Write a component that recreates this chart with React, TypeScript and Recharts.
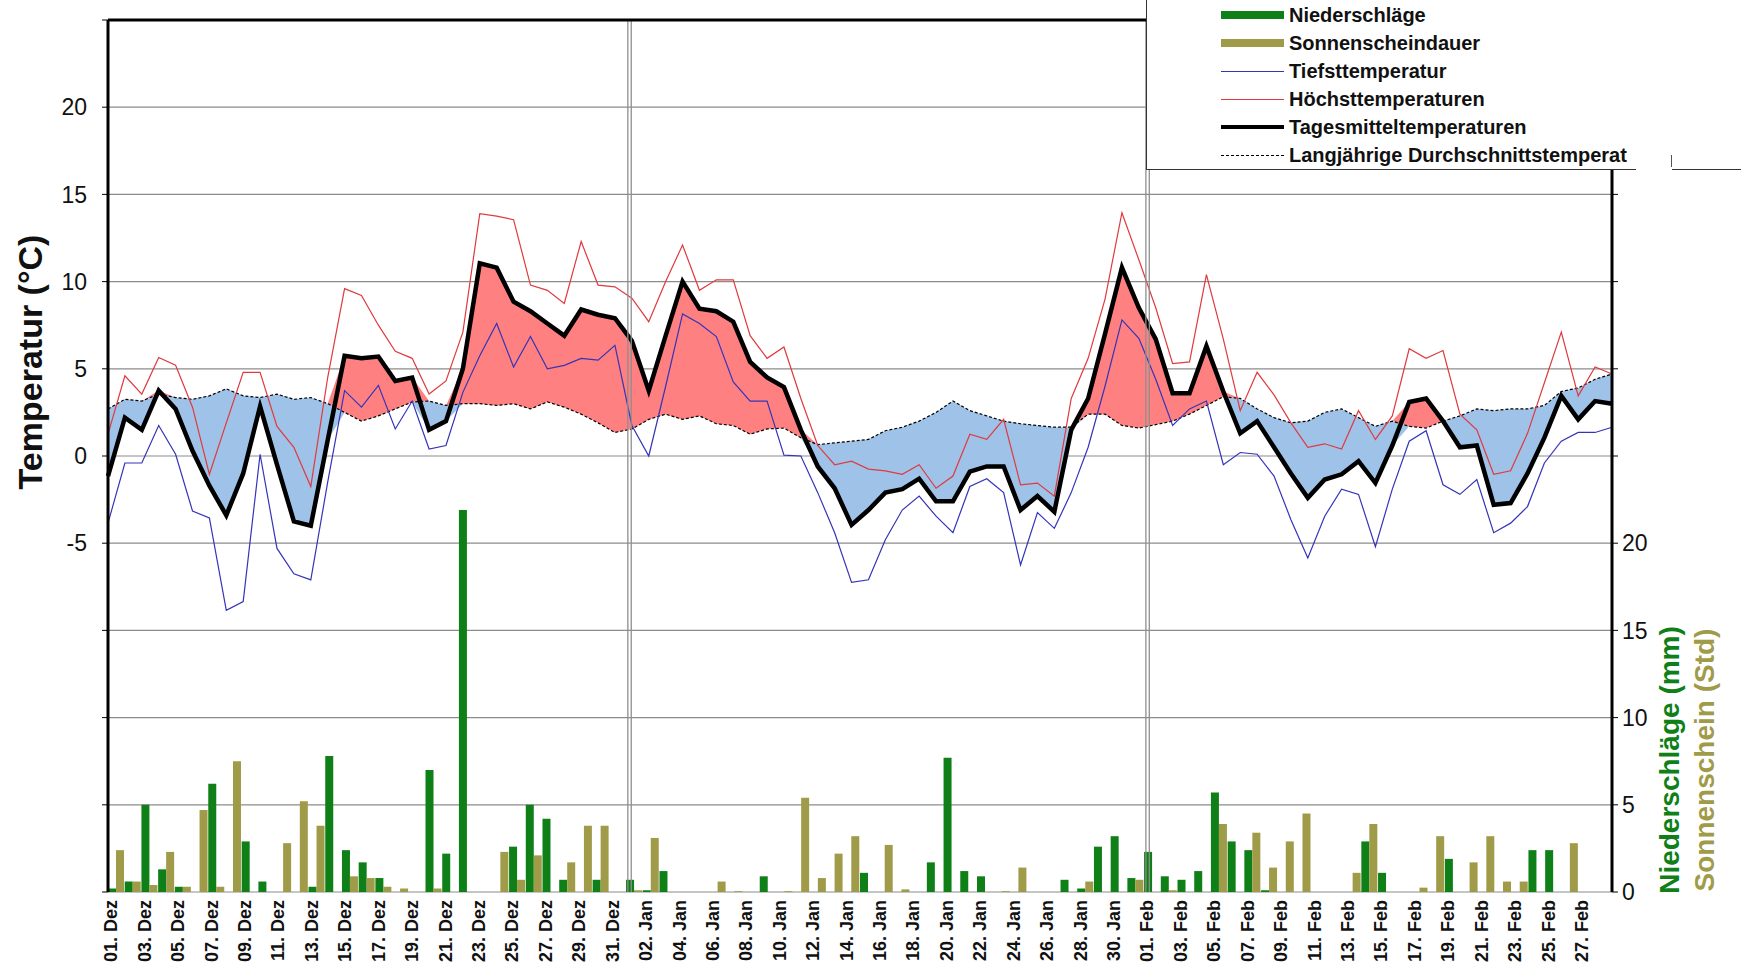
import React from 'react';
import { ComposedChart, Bar, Line, Area, XAxis, YAxis, CartesianGrid, ReferenceLine } from 'recharts';

const FONT = '"Liberation Sans", Arial, Helvetica, sans-serif';

// Kalendertage 01. Dez – 28. Feb
const monthLengths: [string, number][] = [['Dez', 31], ['Jan', 31], ['Feb', 28]];
const days: string[] = monthLengths.flatMap(([m, n]) =>
  Array.from({ length: n }, (_, i) => `${String(i + 1).padStart(2, '0')}. ${m}`)
);

// Niederschläge (mm)
const precip = [
  0.2, 0.6, 5.0, 1.3, 0.3, 0, 6.2, 0, 2.9, 0.6, 0, 0, 0.3, 7.8, 2.4, 1.7, 0.8, 0, 0, 7.0, 2.2, 21.9, 0, 0, 2.6, 5.0, 4.2, 0.7, 0, 0.7, 0,
  0.7, 0.1, 1.2, 0, 0, 0, 0, 0, 0.9, 0, 0, 0, 0, 0, 1.1, 0, 0, 0, 1.7, 7.7, 1.2, 0.9, 0, 0, 0, 0, 0.7, 0.2, 2.6, 3.2, 0.8,
  2.3, 0.9, 0.7, 1.2, 5.7, 2.9, 2.4, 0.1, 0, 0, 0, 0, 0, 2.9, 1.1, 0, 0, 0, 1.9, 0, 0, 0, 0, 2.4, 2.4, 0, 0, 0,
];

// Sonnenscheindauer (Std)
const sunshine = [
  2.4, 0.6, 0.4, 2.3, 0.3, 4.7, 0.3, 7.5, 0, 0, 2.8, 5.2, 3.8, 0, 0.9, 0.8, 0.3, 0.2, 0, 0.2, 0, 0, 0, 2.3, 0.7, 2.1, 0, 1.7, 3.8, 3.8, 0,
  0.1, 3.1, 0, 0, 0, 0.6, 0.05, 0, 0, 0.05, 5.4, 0.8, 2.2, 3.2, 0, 2.7, 0.15, 0, 0, 0, 0, 0, 0.05, 1.4, 0, 0, 0, 0.6, 0, 0, 0.7,
  0, 0.1, 0, 0, 3.9, 0, 3.4, 1.4, 2.9, 4.5, 0, 0, 1.1, 3.9, 0, 0, 0.25, 3.2, 0, 1.7, 3.2, 0.6, 0.6, 0, 0, 2.8, 0, 0,
];

// Tiefsttemperatur (°C)
const tMin = [
  -3.85, -0.4, -0.4, 1.75, 0.1, -3.15, -3.55, -8.85, -8.35, 0.1, -5.3, -6.75, -7.1, -1.5, 3.75, 2.8, 4.05, 1.55, 3.15, 0.4, 0.6, 3.65, 5.75, 7.6, 5.1, 6.85, 5.0, 5.2, 5.6, 5.5, 6.35,
  1.75, 0.0, 4.0, 8.15, 7.6, 6.85, 4.25, 3.15, 3.15, 0.05, 0.0, -2.1, -4.4, -7.25, -7.1, -4.8, -3.1, -2.3, -3.45, -4.4, -1.75, -1.3, -2.1, -6.25, -3.25, -4.15, -2.1, 0.5, 4.0, 7.8, 6.75,
  4.4, 1.75, 2.7, 3.15, -0.5, 0.2, 0.1, -1.15, -3.65, -5.85, -3.45, -1.9, -2.2, -5.2, -1.9, 0.85, 1.45, -1.65, -2.2, -1.35, -4.4, -3.85, -2.9, -0.4, 0.85, 1.35, 1.35, 1.65,
];

// Höchsttemperaturen (°C)
const tMax = [
  1.25, 4.6, 3.55, 5.65, 5.2, 2.8, -1.05, 1.9, 4.8, 4.8, 1.7, 0.5, -1.75, 4.5, 9.6, 9.2, 7.5, 6.0, 5.6, 3.55, 4.3, 7.1, 13.9, 13.75, 13.55, 9.8, 9.5, 8.75, 12.3, 9.8, 9.7,
  9.05, 7.7, 10.0, 12.1, 9.5, 10.1, 10.1, 6.9, 5.6, 6.25, 3.3, 0.6, -0.5, -0.3, -0.75, -0.85, -1.05, -0.5, -1.85, -1.15, 1.25, 0.95, 2.1, -1.65, -1.55, -2.3, 3.3, 5.6, 9.0, 13.95, 11.25,
  8.5, 5.3, 5.4, 10.4, 6.7, 2.6, 4.8, 3.5, 1.9, 0.5, 0.7, 0.4, 2.6, 0.95, 2.3, 6.15, 5.6, 6.05, 2.4, 1.5, -1.05, -0.85, 1.3, 4.2, 7.1, 3.45, 5.1, 4.7,
];

// Tagesmitteltemperaturen (°C)
const tMean = [
  -1.15, 2.2, 1.5, 3.75, 2.7, 0.3, -1.7, -3.4, -1.0, 2.85, -0.5, -3.75, -4.0, 0.9, 5.75, 5.6, 5.7, 4.3, 4.5, 1.5, 2.0, 5.0, 11.05, 10.8, 8.85, 8.3, 7.6, 6.9, 8.4, 8.1, 7.9,
  6.6, 3.75, 6.9, 10.0, 8.45, 8.3, 7.7, 5.4, 4.5, 3.95, 1.5, -0.6, -1.85, -3.95, -3.1, -2.1, -1.9, -1.3, -2.6, -2.6, -0.9, -0.6, -0.6, -3.1, -2.3, -3.2, 1.5, 3.3, 7.0, 10.8, 8.5,
  6.7, 3.6, 3.6, 6.3, 3.7, 1.3, 2.0, 0.5, -1.0, -2.4, -1.35, -1.05, -0.3, -1.55, 0.6, 3.1, 3.3, 2.0, 0.5, 0.6, -2.8, -2.7, -1.0, 1.05, 3.45, 2.1, 3.15, 3.0,
];

// Langjährige Durchschnittstemperatur (°C)
const tNormal = [
  2.7, 3.25, 3.15, 3.55, 3.35, 3.25, 3.45, 3.85, 3.45, 3.35, 3.55, 3.25, 3.35, 3.0, 2.5, 2.0, 2.3, 2.7, 3.1, 3.15, 2.9, 3.0, 3.0, 2.9, 3.0, 2.7, 3.1, 2.8, 2.4, 1.9, 1.35,
  1.55, 2.1, 2.4, 2.1, 2.3, 1.85, 1.75, 1.25, 1.55, 1.6, 1.05, 0.65, 0.75, 0.85, 0.95, 1.45, 1.65, 2.0, 2.5, 3.15, 2.6, 2.3, 2.0, 1.85, 1.75, 1.65, 1.65, 2.4, 2.4, 1.75, 1.6,
  1.8, 2.0, 2.4, 2.9, 3.4, 3.3, 2.7, 2.2, 1.9, 2.0, 2.5, 2.7, 2.2, 1.7, 2.0, 1.7, 1.6, 2.0, 2.3, 2.7, 2.6, 2.7, 2.7, 2.9, 3.7, 3.9, 4.4, 4.7,
];

const tempTicks = [-25, -20, -15, -10, -5, 0, 5, 10, 15, 20, 25];
const rightTicks = [0, 5, 10, 15, 20, 25, 30, 35, 40, 45, 50];
const dayEdges = Array.from({ length: days.length + 1 }, (_, i) => i);
const monthStarts = [31, 62];

const data = days.map((day, i) => ({
  day,
  idx: i,
  precip: precip[i],
  sun: sunshine[i],
  tMin: tMin[i],
  tMax: tMax[i],
  tMean: tMean[i],
  tNormal: tNormal[i],
  warm: [tNormal[i], Math.max(tMean[i], tNormal[i])],
  cold: [Math.min(tMean[i], tNormal[i]), tNormal[i]],
}));

const GREEN = '#0f7f17';
const OLIVE = '#a09b48';

const DayTick = (props: any) => {
  const { x, y, payload } = props;
  const tx = x - 5;
  return (
    <text
      x={tx}
      y={y}
      transform={`rotate(-90, ${tx}, ${y})`}
      textAnchor="end"
      dominantBaseline="central"
      fontSize={18}
      fontWeight="bold"
      fontFamily={FONT}
      fill="#111"
    >
      {payload.value}
    </text>
  );
};

const DoubleLine = (props: any) => {
  const { x1, y1, x2, y2 } = props;
  return (
    <g>
      <line x1={x1 + 1.8} y1={y1} x2={x2 + 1.8} y2={y2} stroke="#8f8f8f" strokeWidth={1.3} />
      <line x1={x1 + 5.2} y1={y1} x2={x2 + 5.2} y2={y2} stroke="#8f8f8f" strokeWidth={1.3} />
    </g>
  );
};

const legendRows = [
  { label: 'Niederschläge', kind: 'bar', color: GREEN },
  { label: 'Sonnenscheindauer', kind: 'bar', color: OLIVE },
  { label: 'Tiefsttemperatur', kind: 'thin', color: '#3434b8' },
  { label: 'Höchsttemperaturen', kind: 'thin', color: '#e0393e' },
  { label: 'Tagesmitteltemperaturen', kind: 'thick', color: '#000' },
  // so abgeschnitten wie im Original
  { label: 'Langjährige Durchschnittstemperat', kind: 'dash', color: '#000' },
];

const Swatch = ({ kind, color }: { kind: string; color: string }) => {
  const base: React.CSSProperties = { width: 63, marginRight: 5, flexShrink: 0 };
  if (kind === 'bar') return <div style={{ ...base, height: 8, background: color }} />;
  if (kind === 'thick') return <div style={{ ...base, height: 4, background: color }} />;
  if (kind === 'dash') return <div style={{ ...base, height: 0, borderTop: `1px dashed ${color}` }} />;
  return <div style={{ ...base, height: 1, background: color }} />;
};

const Legend = () => (
  <>
    <div
      style={{
        position: 'absolute',
        left: 1146,
        top: -1,
        width: 700,
        height: 171,
        border: '1px solid #333',
        background: '#fff',
        boxSizing: 'border-box',
      }}
    >
      <div style={{ position: 'absolute', left: 74, top: 1 }}>
        {legendRows.map((r) => (
          <div key={r.label} style={{ display: 'flex', alignItems: 'center', height: 28, whiteSpace: 'nowrap' }}>
            <Swatch kind={r.kind} color={r.color} />
            <span style={{ fontFamily: FONT, fontWeight: 'bold', fontSize: 20, color: '#111' }}>{r.label}</span>
          </div>
        ))}
      </div>
    </div>
    <div style={{ position: 'absolute', left: 1636, top: 0, width: 36, height: 176, background: '#fff' }} />
    <div style={{ position: 'absolute', left: 1671, top: 155, width: 1, height: 12, background: '#555' }} />
  </>
);

const App: React.FC = () => {
  return (
    <div style={{ position: 'relative', width: 1741, height: 975, background: '#fff', overflow: 'hidden' }}>
      <style>{'body{margin:0;background:#fff;}'}</style>
      <ComposedChart
        width={1741}
        height={975}
        data={data}
        margin={{ top: 20, right: 0, bottom: 0, left: 0 }}
        barCategoryGap={0}
        barGap={0}
      >
        <XAxis
          xAxisId="num"
          type="number"
          dataKey="idx"
          domain={[0, 90]}
          ticks={dayEdges}
          allowDataOverflow
          height={0}
          tick={false}
          tickSize={6}
          axisLine={{ stroke: '#000', strokeWidth: 3 }}
          tickLine={{ stroke: '#000', strokeWidth: 1 }}
        />
        <XAxis
          xAxisId="bar"
          dataKey="day"
          interval={1}
          height={83}
          axisLine={false}
          tickLine={false}
          tickSize={0}
          tickMargin={8}
          tick={<DayTick />}
        />
        <XAxis xAxisId="line" dataKey="day" scale="point" hide />
        <YAxis
          yAxisId="left"
          domain={[-25, 25]}
          ticks={tempTicks}
          allowDataOverflow
          width={108}
          tickFormatter={(v: number) => (v >= -5 && v <= 20 ? String(v) : '')}
          axisLine={{ stroke: '#000', strokeWidth: 3 }}
          tickLine={{ stroke: '#000' }}
          tickSize={6}
          tickMargin={15}
          tick={{ fill: '#111', fontSize: 23, fontFamily: FONT }}
        />
        <YAxis
          yAxisId="right"
          orientation="right"
          domain={[0, 50]}
          ticks={rightTicks}
          allowDataOverflow
          width={129}
          tickFormatter={(v: number) => (v <= 20 ? String(v) : '')}
          axisLine={{ stroke: '#000', strokeWidth: 3 }}
          tickLine={{ stroke: '#000' }}
          tickSize={6}
          tickMargin={4}
          tick={{ fill: '#111', fontSize: 23, fontFamily: FONT, textAnchor: 'start' }}
        />
        <CartesianGrid xAxisId="bar" yAxisId="left" vertical={false} stroke="#8c8c8c" strokeWidth={1.2} />

        <Bar xAxisId="bar" yAxisId="right" dataKey="precip" name="Niederschläge" fill={GREEN} isAnimationActive={false} />
        <Bar xAxisId="bar" yAxisId="right" dataKey="sun" name="Sonnenscheindauer" fill={OLIVE} isAnimationActive={false} />

        <Area xAxisId="line" yAxisId="left" type="linear" dataKey="warm" stroke="none" fill="#ff8080" fillOpacity={1} isAnimationActive={false} />
        <Area xAxisId="line" yAxisId="left" type="linear" dataKey="cold" stroke="none" fill="#9fc2e8" fillOpacity={1} isAnimationActive={false} />

        <Line xAxisId="line" yAxisId="left" type="linear" dataKey="tNormal" name="Langjährige Durchschnittstemperatur" stroke="#000" strokeWidth={1.2} strokeDasharray="3 2" dot={false} isAnimationActive={false} />
        <Line xAxisId="line" yAxisId="left" type="linear" dataKey="tMin" name="Tiefsttemperatur" stroke="#3434b8" strokeWidth={1.2} dot={false} isAnimationActive={false} />
        <Line xAxisId="line" yAxisId="left" type="linear" dataKey="tMax" name="Höchsttemperaturen" stroke="#e0393e" strokeWidth={1.2} dot={false} isAnimationActive={false} />
        <Line xAxisId="line" yAxisId="left" type="linear" dataKey="tMean" name="Tagesmitteltemperaturen" stroke="#000" strokeWidth={4.5} strokeLinejoin="miter" dot={false} isAnimationActive={false} />

        {monthStarts.map((m) => (
          <ReferenceLine key={m} xAxisId="num" yAxisId="left" x={m} shape={DoubleLine} />
        ))}
        <ReferenceLine xAxisId="num" yAxisId="left" y={25} stroke="#000" strokeWidth={3} />
      </ComposedChart>

      <div
        style={{
          position: 'absolute',
          left: 30,
          top: 362,
          transform: 'translate(-50%, -50%) rotate(-90deg)',
          whiteSpace: 'nowrap',
          fontFamily: FONT,
          fontWeight: 'bold',
          fontSize: 34,
          color: '#111',
        }}
      >
        Temperatur (°C)
      </div>
      <div
        style={{
          position: 'absolute',
          left: 1670,
          top: 760,
          transform: 'translate(-50%, -50%) rotate(-90deg)',
          whiteSpace: 'nowrap',
          fontFamily: FONT,
          fontWeight: 'bold',
          fontSize: 28,
          color: GREEN,
        }}
      >
        Niederschläge (mm)
      </div>
      <div
        style={{
          position: 'absolute',
          left: 1705,
          top: 760,
          transform: 'translate(-50%, -50%) rotate(-90deg)',
          whiteSpace: 'nowrap',
          fontFamily: FONT,
          fontWeight: 'bold',
          fontSize: 28,
          color: OLIVE,
        }}
      >
        Sonnenschein (Std)
      </div>
      <Legend />
    </div>
  );
};

export default App;
